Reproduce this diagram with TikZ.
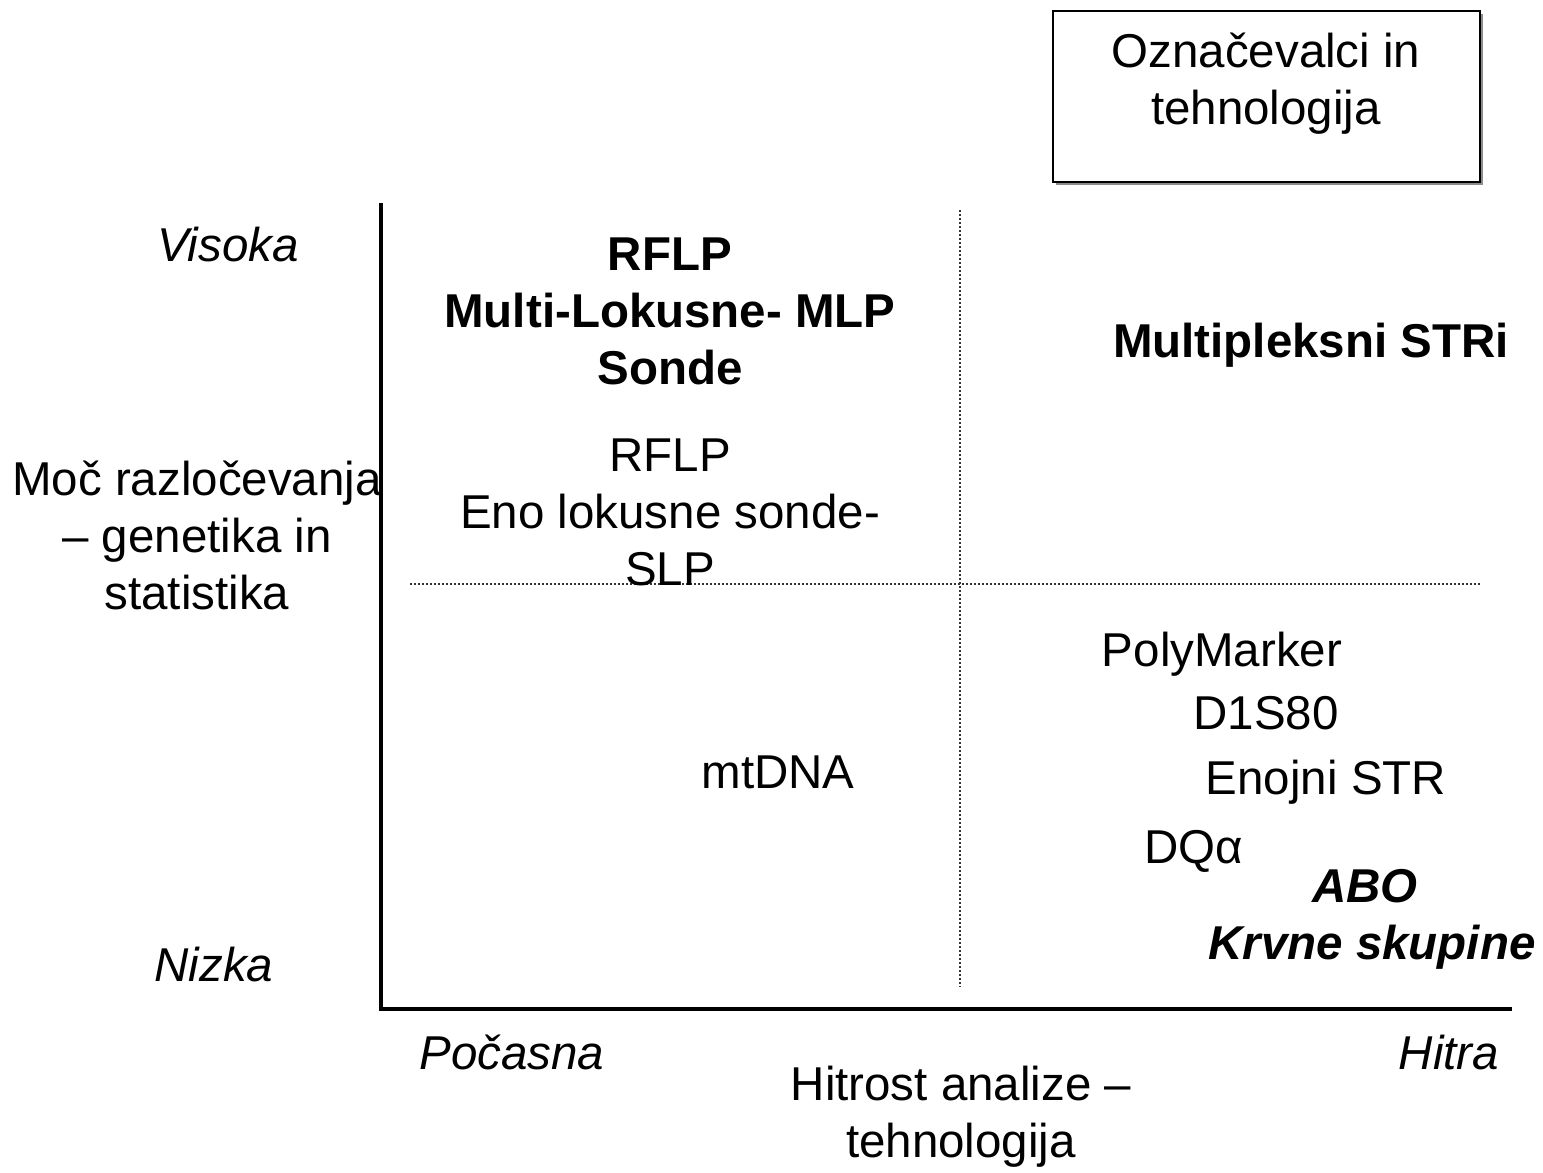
\documentclass[tikz,border=0pt]{standalone}
\usepackage{fontspec}
\setmainfont{Liberation Sans}
\begin{document}
\begin{tikzpicture}[x=1pt,y=-1pt,
  lbl/.style={font=\fontsize{47.5}{57}\selectfont, align=center, inner sep=0pt},
  lblb/.style={lbl, font=\fontsize{47.5}{57}\selectfont\bfseries},
  lbli/.style={lbl, font=\fontsize{47.5}{57}\selectfont\itshape},
  lblbi/.style={lbl, font=\fontsize{47.5}{57}\selectfont\bfseries\itshape},
  axisline/.style={line width=4pt, line cap=rect},
  gridline/.style={line width=1.6pt, dash pattern=on 1.6pt off 2.4pt, black!80},
]
\useasboundingbox (0,0) rectangle (1543,1173);

% title box with drop shadow
\fill[black!45] (1056,14) rectangle (1483,185);
\node[draw, fill=white, line width=1.8pt, minimum width=427pt, minimum height=171pt,
      inner sep=0pt, anchor=north west] (title) at (1052,10) {};
\node[lbl, anchor=center] (titletext) at (1266,84) {Označevalci in\\tehnologija};

% axes
\coordinate (origin) at (381,1009);
\coordinate (ytop) at (381,205);
\coordinate (xend) at (1510,1009);
\draw[axisline] (ytop) -- (origin) -- (xend);

% quadrant dividers
\coordinate (vtop) at (960,210);
\coordinate (vbot) at (960,987);
\coordinate (hleft) at (410,584);
\coordinate (hright) at (1480,584);
\draw[gridline] (vtop) -- (vbot);
\draw[gridline] (hleft) -- (hright);

% vertical axis labels
\node[lbli, anchor=base] (high) at (228,261) {Visoka};
\node[lbli, anchor=base] (low) at (214,981) {Nizka};
\node[lbl, anchor=center] (yaxis) at (197,535) {Moč razločevanja\\– genetika in\\statistika};

% horizontal axis labels
\node[lbli, anchor=base] (slow) at (512,1069) {Počasna};
\node[lbli, anchor=base] (fast) at (1449,1069) {Hitra};
\node[lbl, anchor=center] (xaxis) at (961,1117) {Hitrost analize –\\tehnologija};

% quadrant contents
\node[lblb, anchor=center] (mlp) at (670,311) {RFLP\\Multi-Lokusne- MLP\\Sonde};
\node[lblb, anchor=base] (str) at (1311,357) {Multipleksni STRi};
\node[lbl, anchor=center] (slp) at (670,512) {RFLP\\Eno lokusne sonde-\\SLP};
\node[lbl, anchor=base] (mtdna) at (778,788) {mtDNA};
\node[lbl, anchor=base] (poly) at (1222,666) {PolyMarker};
\node[lbl, anchor=base] (d1s) at (1266,729) {D1S80};
\node[lbl, anchor=base] (estr) at (1326,794) {Enojni STR};
\node[lbl, anchor=base] (dqa) at (1194,863) {DQα};
\node[lblbi, anchor=center] (abo) at (1372,919) {ABO\hspace*{14pt}\\Krvne skupine};
\end{tikzpicture}
\end{document}
